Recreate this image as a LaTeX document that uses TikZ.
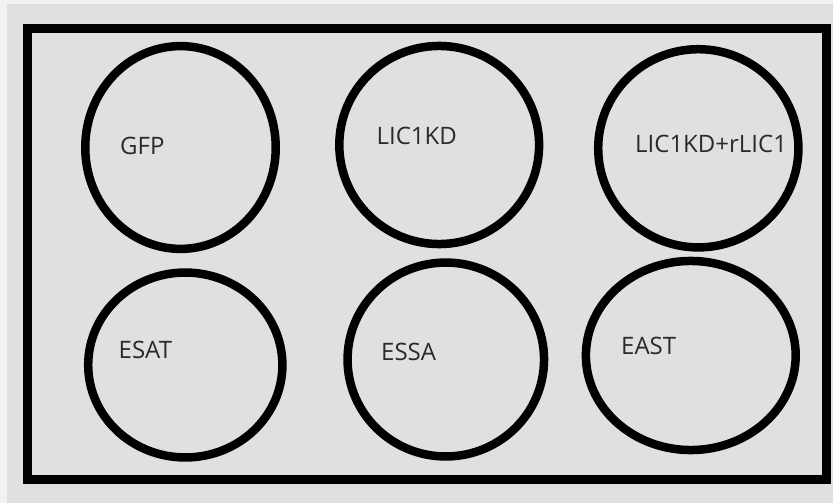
\documentclass[tikz,border=0pt]{standalone}
\usepackage{fontspec}
\setmainfont{Open Sans}
\usetikzlibrary{shapes.geometric}
\definecolor{plate}{HTML}{E0E0E0}
\definecolor{edge}{HTML}{F2F2F2}
\definecolor{ink}{HTML}{2A2A2A}
\tikzset{
  well/.style={draw=black, line width=8.5pt, ellipse, inner sep=0pt},
  lbl/.style={anchor=base west, inner sep=0pt, text=ink, font=\fontsize{24}{28}\selectfont},
}
\begin{document}
\begin{tikzpicture}[x=1pt, y=-1pt]
  % page and plate background
  \fill[edge] (0,0) rectangle (833,503);
  \fill[plate] (7,4) rectangle (833,503);
  \useasboundingbox (0,0) rectangle (833,503);
  % plate outline
  \draw[line width=9.5pt] (27.5,28.5) rectangle (826.5,479.5);
  % wells
  \node[well, minimum width=190.5pt, minimum height=202.8pt] (w1) at (180.5,147.5) {};
  \node[well, minimum width=199.8pt, minimum height=198.1pt] (w2) at (439.2,145) {};
  \node[well, minimum width=200.2pt, minimum height=198.2pt] (w3) at (698.3,148.3) {};
  \node[well, minimum width=194.2pt, minimum height=184.9pt] (w4) at (185.3,365) {};
  \node[well, minimum width=196.5pt, minimum height=193.9pt] (w5) at (445.8,359.5) {};
  \node[well, minimum width=209.8pt, minimum height=189.1pt] (w6) at (690.8,355.5) {};
  % labels
  \node[lbl] (t1) at (120,154) {GFP};
  \node[lbl] (t2) at (376.5,144) {LIC1KD};
  \node[lbl] (t3) at (635,152.7) {LIC1KD+rLIC1};
  \node[lbl] (t4) at (118.5,358.3) {ESAT};
  \node[lbl] (t5) at (381,360.7) {ESSA};
  \node[lbl] (t6) at (621,354.3) {EAST};
\end{tikzpicture}
\end{document}
